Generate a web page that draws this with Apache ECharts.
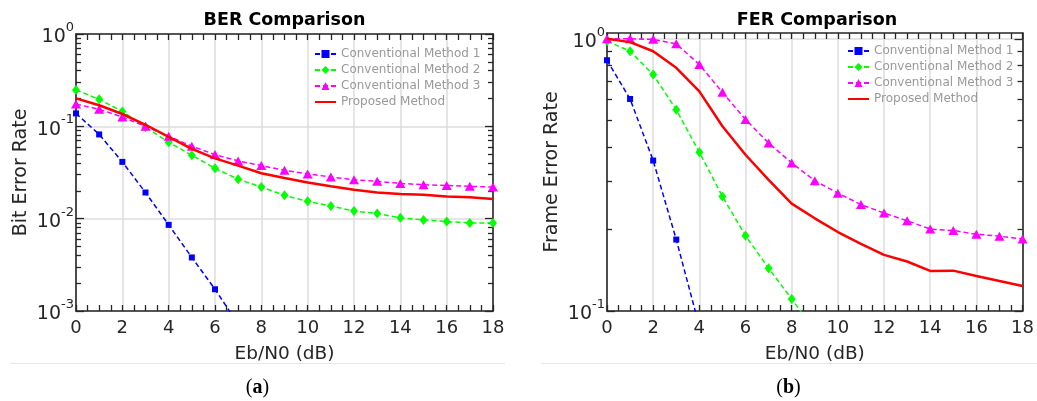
<!DOCTYPE html>
<html>
<head>
<meta charset="utf-8">
<script src="https://cdn.jsdelivr.net/npm/echarts@6/dist/echarts.min.js"></script>
<style>
  html, body { margin: 0; padding: 0; background: #ffffff; }
  #chart { width: 1037px; height: 401px; }
</style>
</head>
<body>
<div id="chart"></div>
<script>
// Eb/N0 sweep in dB
const ebn0 = [0, 1, 2, 3, 4, 5, 6, 7, 8, 9, 10, 11, 12, 13, 14, 15, 16, 17, 18];
const xTicks = [0, 2, 4, 6, 8, 10, 12, 14, 16, 18];

const seriesNames = ['Conventional Method 1', 'Conventional Method 2', 'Conventional Method 3', 'Proposed Method'];

// Bit error rate per method
const berMethod1 = [0.138, 0.0817, 0.0412, 0.0192, 0.00857, 0.0038, 0.00172, 0.00072];
const berMethod2 = [0.248, 0.196, 0.145, 0.098, 0.0673, 0.0486, 0.0351, 0.0268, 0.022, 0.0179,
                    0.0154, 0.0137, 0.0121, 0.0114, 0.0102, 0.0097, 0.0093, 0.009, 0.009];
const berMethod3 = [0.174, 0.153, 0.126, 0.1, 0.078, 0.061, 0.0494, 0.0422, 0.0376, 0.0334,
                    0.0305, 0.0283, 0.0264, 0.0254, 0.0241, 0.0233, 0.0229, 0.0224, 0.022];
const berProposed = [0.201, 0.169, 0.136, 0.104, 0.077, 0.057, 0.045, 0.0375, 0.031, 0.0276,
                     0.0247, 0.0224, 0.0206, 0.0192, 0.0185, 0.0182, 0.0174, 0.0171, 0.0163];

// Frame error rate per method
const ferMethod1 = [0.834, 0.601, 0.357, 0.183, 0.0877];
const ferMethod2 = [0.98, 0.9, 0.739, 0.549, 0.383, 0.2635, 0.189, 0.1436, 0.1107, 0.085];
const ferMethod3 = [1.0, 1.0, 0.995, 0.958, 0.804, 0.636, 0.505, 0.414, 0.35, 0.301,
                    0.271, 0.246, 0.229, 0.2145, 0.2, 0.1976, 0.1915, 0.1883, 0.184];
const ferProposed = [1.0, 0.972, 0.9, 0.782, 0.641, 0.477, 0.375, 0.303, 0.248, 0.219,
                     0.195, 0.1766, 0.1608, 0.152, 0.1404, 0.1407, 0.1345, 0.1289, 0.1236];

// Log-axis decades and minor ticks
const berDecades = [0.001, 0.01, 0.1, 1];
const ferDecades = [0.1, 1];

function minorTicks(decades) {
  const out = [];
  for (let i = 0; i < decades.length - 1; i++) {
    for (let k = 2; k <= 9; k++) out.push(+(k * decades[i]).toPrecision(6));
  }
  return out;
}

const FONT = 'DejaVu Sans';
const AXIS_COLOR = '#262626';
const GRID_COLOR = '#dcdcdc';

function pairs(values) {
  return values.map((v, i) => [ebn0[i], v]);
}

function xAxisDef(gridIndex, position, main) {
  return {
    type: 'value', gridIndex: gridIndex, position: position,
    min: 0, max: 18, interval: 2,
    name: main ? 'Eb/N0 (dB)' : '',
    nameLocation: 'middle', nameGap: 34,
    nameTextStyle: { fontFamily: FONT, fontSize: 18.5, color: AXIS_COLOR },
    axisLine: { show: true, onZero: false, lineStyle: { color: AXIS_COLOR, width: 1.6 } },
    axisTick: { show: true, inside: true, length: 6, lineStyle: { color: AXIS_COLOR, width: 1.3 } },
    minorTick: { show: true, splitNumber: 4, length: 6, lineStyle: { color: AXIS_COLOR, width: 1.3 } },
    axisLabel: {
      show: main, margin: 8, color: AXIS_COLOR, fontFamily: FONT, fontSize: 18,
      customValues: xTicks
    },
    splitLine: { show: main, lineStyle: { color: GRID_COLOR, width: 1.5 } }
  };
}

function expLabel(v) {
  const e = Math.round(Math.log10(v));
  return '{b|10}{e|' + e + '}';
}

function yAxisDef(gridIndex, position, min, max, decades, kind, name) {
  const main = kind === 'main';
  const minor = kind === 'minor';
  return {
    type: 'log', logBase: 10, gridIndex: gridIndex, position: position,
    min: min, max: max,
    name: main ? name : '',
    nameLocation: 'middle', nameGap: 45,
    nameTextStyle: { fontFamily: FONT, fontSize: 19, color: AXIS_COLOR },
    axisLine: { show: !minor, onZero: false, lineStyle: { color: AXIS_COLOR, width: 1.6 } },
    axisTick: {
      show: true, inside: true, length: minor ? 5 : 8,
      customValues: minor ? minorTicks(decades) : decades,
      lineStyle: { color: AXIS_COLOR, width: 1.3 }
    },
    axisLabel: {
      show: main, margin: 2, customValues: decades,
      formatter: expLabel,
      rich: {
        b: { fontFamily: FONT, fontSize: 19, color: AXIS_COLOR, lineHeight: 26, verticalAlign: 'bottom' },
        e: { fontFamily: FONT, fontSize: 13, color: AXIS_COLOR, lineHeight: 14, verticalAlign: 'top' }
      }
    },
    splitLine: { show: main, lineStyle: { color: GRID_COLOR, width: 1.5 } }
  };
}

const styles = [
  { color: '#0000ff', symbol: 'rect', symbolSize: 6, dashed: true, width: 1.5 },
  { color: '#00ff00', symbol: 'diamond', symbolSize: [8, 10], dashed: true, width: 1.5 },
  { color: '#ff00ff', symbol: 'triangle', symbolSize: [10, 9], dashed: true, width: 1.5 },
  { color: '#ff0000', symbol: 'none', symbolSize: 0, dashed: false, width: 2.5 }
];

function lineSeries(idx, values, xAxisIndex, yAxisIndex) {
  const s = styles[idx];
  const plain = s.symbol === 'none';
  return {
    type: 'line', name: seriesNames[idx],
    xAxisIndex: xAxisIndex, yAxisIndex: yAxisIndex,
    data: pairs(values),
    symbol: s.symbol, symbolSize: s.symbolSize, showSymbol: !plain,
    clip: true, animation: false, z: 3 + idx,
    lineStyle: { color: s.color, width: s.width, type: s.dashed ? [5, 3] : 'solid', opacity: 1 },
    // a marker-less line keeps only its stroke in the legend
    itemStyle: { color: s.color, opacity: plain ? 0 : 1 }
  };
}

function legendDef(left, top) {
  return {
    orient: 'vertical', left: left, top: top, padding: 0,
    itemWidth: 21, itemHeight: 10, itemGap: 4,
    selectedMode: false,
    textStyle: { fontFamily: FONT, fontSize: 12, color: '#999999', lineHeight: 12 },
    data: seriesNames
  };
}

function caption(letter, x) {
  return {
    type: 'text', x: x, y: 388,
    style: {
      text: '{n|(}{b|' + letter + '}{n|)}',
      textAlign: 'center', textVerticalAlign: 'middle',
      align: 'center', verticalAlign: 'middle',
      rich: {
        n: { fontFamily: 'Liberation Serif', fontSize: 20, fill: '#000000' },
        b: { fontFamily: 'Liberation Serif', fontSize: 20, fontWeight: 'bold', fill: '#000000' }
      }
    }
  };
}

function heading(text, x) {
  return {
    type: 'text', x: x, y: 20,
    style: {
      text: text, font: 'bold 17.5px "DejaVu Sans"', fill: '#000000',
      textAlign: 'center', textVerticalAlign: 'middle',
      align: 'center', verticalAlign: 'middle'
    }
  };
}

function separator(x1, x2) {
  return {
    type: 'line', shape: { x1: x1, y1: 363.5, x2: x2, y2: 363.5 },
    style: { stroke: '#e6e6e6', lineWidth: 1 }
  };
}

const chart = echarts.init(document.getElementById('chart'), null, { renderer: 'canvas' });

chart.setOption({
  backgroundColor: '#ffffff',
  animation: false,
  grid: [
    { left: 76, top: 34, width: 417, height: 277 },
    { left: 607, top: 33, width: 420, height: 278 }
  ],
  xAxis: [
    xAxisDef(0, 'bottom', true),
    xAxisDef(0, 'top', false),
    xAxisDef(1, 'bottom', true),
    xAxisDef(1, 'top', false)
  ],
  yAxis: [
    yAxisDef(0, 'left', 0.001, 1, berDecades, 'main', 'Bit Error Rate'),
    yAxisDef(0, 'left', 0.001, 1, berDecades, 'minor'),
    yAxisDef(0, 'right', 0.001, 1, berDecades, 'side'),
    yAxisDef(0, 'right', 0.001, 1, berDecades, 'minor'),
    yAxisDef(1, 'left', 0.1, 1.05, ferDecades, 'main', 'Frame Error Rate'),
    yAxisDef(1, 'left', 0.1, 1.05, ferDecades, 'minor'),
    yAxisDef(1, 'right', 0.1, 1.05, ferDecades, 'side'),
    yAxisDef(1, 'right', 0.1, 1.05, ferDecades, 'minor')
  ],
  legend: [legendDef(314, 48), legendDef(847, 45)],
  series: [
    lineSeries(0, berMethod1, 0, 0),
    lineSeries(1, berMethod2, 0, 0),
    lineSeries(2, berMethod3, 0, 0),
    lineSeries(3, berProposed, 0, 0),
    lineSeries(0, ferMethod1, 2, 4),
    lineSeries(1, ferMethod2, 2, 4),
    lineSeries(2, ferMethod3, 2, 4),
    lineSeries(3, ferProposed, 2, 4)
  ],
  graphic: [
    heading('BER Comparison', 284.5),
    heading('FER Comparison', 817),
    separator(10, 505),
    separator(541, 1037),
    caption('a', 257.5),
    caption('b', 788.5)
  ]
});
</script>
</body>
</html>
